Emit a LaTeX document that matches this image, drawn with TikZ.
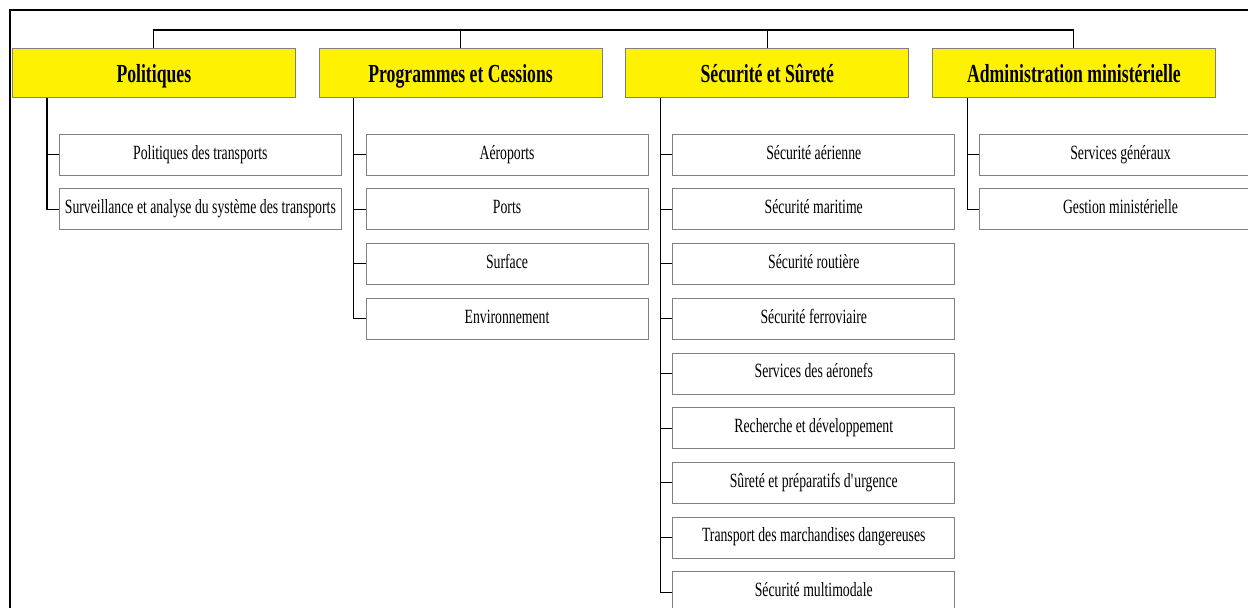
\documentclass[tikz,border=0pt]{standalone}
\usepackage{fontspec}
\setmainfont{Liberation Serif}[FakeStretch=0.68]
\usetikzlibrary{positioning}

\begin{document}
\begin{tikzpicture}[
        node distance = 0.26cm and 0.46cm,
        headbox/.style = {draw=gray, fill=yellow, minimum width=5.66cm, minimum height=0.98cm, inner sep=0pt,
            text height=0.44cm, text depth=0.06cm, font=\fontsize{14.8}{18}\selectfont\bfseries},
        taskbox/.style = {draw=gray, fill=white, minimum width=5.64cm, minimum height=0.82cm, inner sep=0pt,
            text height=0.26cm, text depth=0.08cm, font=\fontsize{11.5}{13}\selectfont},
        link/.style = {draw, line width=0.6pt},
    ]
    \clip (0,0) rectangle (24.96,-12.14);
    \draw[line width=1.2pt] (0.2,-12.6) |- (25.6,-0.2);
    % main branches
    \node[headbox, anchor=north west] (pol) at (0.24,-0.96) {Politiques};
    \node[headbox, right=of pol]                (prog) {Programmes et Cessions};
    \node[headbox, right=of prog]               (secu) {Sécurité et Sûreté};
    \node[headbox, right=of secu]               (adm) {Administration ministérielle};
    \coordinate[above=0.36cm of pol.north]      (bus);
    \draw[link] (pol.north) -- (bus) -| (adm.north);
    \draw[link] (prog.north) -- (prog.north |- bus);
    \draw[link] (secu.north) -- (secu.north |- bus);
    %
    \node[taskbox, below=0.72cm of pol.south west, anchor=north west, xshift=0.94cm] (pol1) {Politiques des transports};
    \node[taskbox, below=of pol1]               (pol2) {Surveillance et analyse du système des transports};
    \draw[link] ([xshift=0.7cm]pol.south west) |- (pol2.west);
    \draw[link] ([xshift=0.7cm]pol.south west |- pol1.west) -- (pol1.west);
    %
    \node[taskbox, below=0.72cm of prog.south west, anchor=north west, xshift=0.94cm] (prog1) {Aéroports};
    \node[taskbox, below=of prog1]              (prog2) {Ports};
    \node[taskbox, below=of prog2]              (prog3) {Surface};
    \node[taskbox, below=of prog3]              (prog4) {Environnement};
    \draw[link] ([xshift=0.7cm]prog.south west) |- (prog4.west);
    \draw[link] ([xshift=0.7cm]prog.south west |- prog1.west) -- (prog1.west);
    \draw[link] ([xshift=0.7cm]prog.south west |- prog2.west) -- (prog2.west);
    \draw[link] ([xshift=0.7cm]prog.south west |- prog3.west) -- (prog3.west);
    %
    \node[taskbox, below=0.72cm of secu.south west, anchor=north west, xshift=0.94cm] (secu1) {Sécurité aérienne};
    \node[taskbox, below=of secu1]              (secu2) {Sécurité maritime};
    \node[taskbox, below=of secu2]              (secu3) {Sécurité routière};
    \node[taskbox, below=of secu3]              (secu4) {Sécurité ferroviaire};
    \node[taskbox, below=of secu4]              (secu5) {Services des aéronefs};
    \node[taskbox, below=of secu5]              (secu6) {Recherche et développement};
    \node[taskbox, below=of secu6]              (secu7) {Sûreté et préparatifs d\textquotesingle urgence};
    \node[taskbox, below=of secu7]              (secu8) {Transport des marchandises dangereuses};
    \node[taskbox, below=of secu8]              (secu9) {Sécurité multimodale};
    \draw[link] ([xshift=0.7cm]secu.south west) |- (secu9.west);
    \foreach \k in {1,...,8}
        \draw[link] ([xshift=0.7cm]secu.south west |- secu\k.west) -- (secu\k.west);
    %
    \node[taskbox, below=0.72cm of adm.south west, anchor=north west, xshift=0.94cm] (adm1) {Services généraux};
    \node[taskbox, below=of adm1]               (adm2) {Gestion ministérielle};
    \draw[link] ([xshift=0.7cm]adm.south west) |- (adm2.west);
    \draw[link] ([xshift=0.7cm]adm.south west |- adm1.west) -- (adm1.west);
\end{tikzpicture}
\end{document}
